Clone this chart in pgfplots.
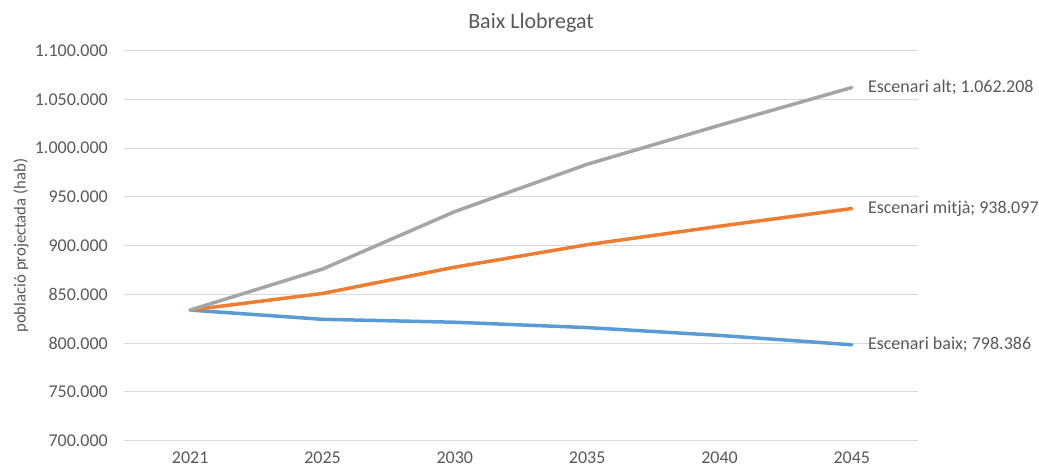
\documentclass[border=0pt]{standalone}
\usepackage{fontspec}
\setmainfont{Carlito}
\usepackage{pgfplots}
\pgfplotsset{compat=1.18}
\definecolor{txt}{HTML}{595959}
\definecolor{gridc}{HTML}{D9D9D9}
\definecolor{cblue}{HTML}{5B9BD5}
\definecolor{corange}{HTML}{ED7D31}
\definecolor{cgrey}{HTML}{A5A5A5}
\begin{document}
\begin{tikzpicture}
\begin{axis}[
  at={(124bp,28.3bp)}, anchor=south west,
  scale only axis, width=794bp, height=390bp,
  xmin=-0.5, xmax=5.5, ymin=700000, ymax=1100000,
  xtick={0,1,2,3,4,5},
  xticklabels={2021,2025,2030,2035,2040,2045},
  ytick={700000,750000,800000,850000,900000,950000,1000000,1050000,1100000},
  yticklabels={700.000,750.000,800.000,850.000,900.000,950.000,1.000.000,1.050.000,1.100.000},
  scaled y ticks=false,
  ymajorgrids, xmajorgrids=false,
  grid style={draw=gridc, line width=1bp},
  axis line style={draw=none},
  major tick length=0pt,
  tick label style={font=\fontsize{18bp}{21bp}\selectfont, text=txt},
  xticklabel style={anchor=center, yshift=-16.8bp, inner sep=0pt},
  yticklabel style={anchor=east, xshift=-16bp, inner sep=0pt},
  ylabel={població projectada (hab)},
  every axis y label/.style={at={(axis description cs:0,0.5)}, rotate=90, anchor=center, yshift=103bp, font=\fontsize{16.7bp}{20bp}\selectfont, text=txt},
  title={Baix Llobregat},
  title style={at={(axis description cs:0.5126,1)}, anchor=base, yshift=16bp, font=\fontsize{22bp}{26bp}\selectfont, text=txt},
  clip=false,
  every node near coord/.style={anchor=west, xshift=16bp, inner sep=0pt, font=\fontsize{18bp}{21bp}\selectfont, text=txt},
]
\addplot[cblue, line width=3.5bp, line join=round, line cap=round] coordinates {
(0,834000) (1,824500) (2,821500) (3,816000) (4,808000) (5,798386)};
\addplot[corange, line width=3.5bp, line join=round, line cap=round] coordinates {
(0,834000) (1,851000) (2,878000) (3,901000) (4,920000) (5,938097)};
\addplot[cgrey, line width=3.5bp, line join=round, line cap=round] coordinates {
(0,834000) (1,876000) (2,935000) (3,983500) (4,1023500) (5,1062208)};
\addplot[draw=none, mark=none, nodes near coords={Escenari alt; 1.062.208}] coordinates {(5,1062208)};
\addplot[draw=none, mark=none, nodes near coords={Escenari mitjà; 938.097}] coordinates {(5,938097)};
\addplot[draw=none, mark=none, nodes near coords={Escenari baix; 798.386}] coordinates {(5,798386)};
\end{axis}
\pgfresetboundingbox
\useasboundingbox (0,0) rectangle (1039bp,469bp);
\end{tikzpicture}
\end{document}
